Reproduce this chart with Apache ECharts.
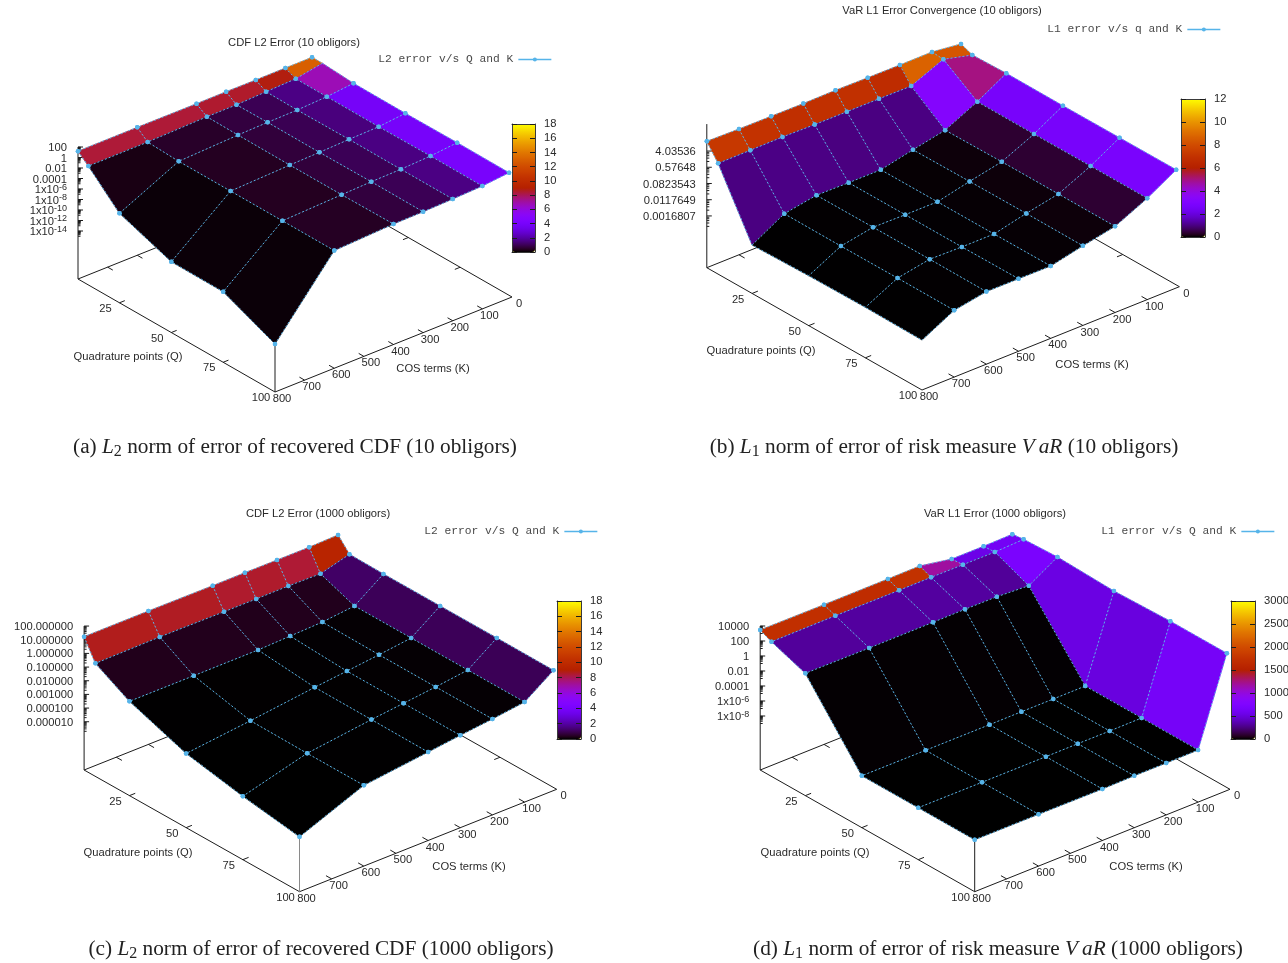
<!DOCTYPE html>
<html>
<head>
<meta charset="utf-8">
<style>html,body{margin:0;padding:0;background:#fff}#c{width:1288px;height:963px}</style>
<script src="https://cdn.jsdelivr.net/npm/echarts@6/dist/echarts.min.js"></script>
</head>
<body>
<div id="c"></div>
<script>
// ---------- data ----------
const qValues = [5, 10, 25, 50, 75, 100];
const kValues7 = [10, 100, 200, 300, 400, 600, 800];
const kValues9 = [10, 100, 200, 300, 400, 500, 600, 700, 800];
const qTicks = [25, 50, 75, 100];
const kTicks = [0, 100, 200, 300, 400, 500, 600, 700, 800];

// log10 of the error, one row per Q, one column per K
const log10CdfL2_10 = [
  [1.22, 1.22, 1.19, 1.22, 1.20, 1.22, 1.21],
  [1.22, 0.30, 0.10, -0.13, -0.15, -0.45, -0.50],
  [0.80, 0.29, 0.01, -0.08, -0.23, -0.72, -6.1],
  [0.74, 0.23, 0.08, -0.13, -0.29, -0.72, -9.66],
  [0.82, 0.32, 0.05, -0.06, -0.27, -0.72, -9.7],
  [0.76, 0.27, 0.05, -0.11, -0.19, -0.72, -14]
];
const log10VarL1_10 = [
  [0.87, 1.06, 1.05, 1.06, 1.08, 1.06, 1.07, 1.08, 1.11],
  [0.63, 1.01, 0.29, 0.30, 0.30, 0.30, 0.33, 0.31, 0.30],
  [0.68, -0.19, -1.0, -1.35, -1.72, -1.72, -1.70, -1.99, -2.95],
  [0.67, -0.2, -0.97, -1.32, -1.71, -1.71, -1.69, -2.0, -2.87],
  [0.68, -0.19, -0.97, -1.31, -1.71, -1.71, -1.68, -1.99, -2.84],
  [0.69, -0.19, -0.98, -1.32, -1.70, -1.69, -1.69, -1.99, -2.87]
];
const log10CdfL2_1000 = [
  [1.27, 1.21, 1.21, 1.22, 1.21, 1.23, 1.22],
  [0.32, -0.26, -0.22, -0.23, -0.23, -0.20, -0.26],
  [0.29, -1.21, -1.45, -1.54, -1.62, -1.63, -1.63],
  [0.29, -1.21, -1.5, -1.76, -2.01, -2.58, -3.1],
  [0.29, -1.21, -1.51, -1.77, -2.03, -2.62, -3.89],
  [0.27, -1.21, -1.51, -1.77, -2.06, -2.62, -4.51]
];
const log10VarL1_1000 = [
  [2.75, 2.68, 2.69, 3.47, 3.44, 3.43, 3.47],
  [2.93, 2.77, 2.79, 2.81, 2.79, 2.81, 2.76],
  [3.13, 0.84, 1.08, 1.11, 1.08, 1.07, 1.11],
  [2.87, -8.27, -8.29, -8.28, -8.30, -8.30, -8.28],
  [3.11, -8.25, -8.28, -8.27, -8.29, -8.29, -8.27],
  [3.11, -8.25, -8.28, -8.27, -8.33, -8.29, -8.27]
];

const zTickLabelsA = ['100', '1', '0.01', '0.0001', '1x10{s|-6}', '1x10{s|-8}', '1x10{s|-10}', '1x10{s|-12}', '1x10{s|-14}'];
const zTickLogsA = [2, 0, -2, -4, -6, -8, -10, -12, -14];
const zTickLabelsB = ['4.03536', '0.57648', '0.0823543', '0.0117649', '0.0016807'];
const zTickLogsB = [0.606, -0.239, -1.084, -1.929, -2.774];
const zTickLabelsC = ['100.000000', '10.000000', '1.000000', '0.100000', '0.010000', '0.001000', '0.000100', '0.000010'];
const zTickLogsC = [2, 1, 0, -1, -2, -3, -4, -5];
const zTickLabelsD = ['10000', '100', '1', '0.01', '0.0001', '1x10{s|-6}', '1x10{s|-8}'];
const zTickLogsD = [4, 2, 0, -2, -4, -6, -8];

// ---------- layout / view of each panel ----------
const SANS = '"Liberation Sans", Arial, sans-serif';
const MONO = '"Liberation Mono", monospace';
const SERIF = '"Liberation Serif", serif';
const TXT = '#2a2a2a', AX = '#1c1c1c', MESH = '#56b4e9';
const LABEL_SIZE = 11.2;

const panels = [
  { box: [0, 0, 644, 480], kValues: kValues7, z: log10CdfL2_10,
    left: [78, 279], bottom: [275, 392], right: [512, 297],
    zBase: -23.14, zTop: 2, zScale: 5.25, zLabels: zTickLabelsA, zLogs: zTickLogsA, minor: [.1,.2,.3,.4,.5,.6,.7,.8,.9],
    title: 'CDF L2 Error (10 obligors)', titleAt: [294, 43],
    key: 'L2 error v/s Q and K', keyEnd: 552, keyY: 61,
    qTitleAt: [128, 356], kTitleAt: [433, 368],
    cb: [512, 124, 23, 128], cbMax: 18, cbStep: 2, post: AX, hidden: [[1, 0]],
    caption: '(a) {i|L}{sub|2} norm of error of recovered CDF (10 obligors)', capAt: [295, 446] },
  { box: [644, 0, 644, 480], kValues: kValues9, z: log10VarL1_10,
    left: [706.8, 267.7], bottom: [922, 390], right: [1179.4, 286.7],
    zBase: -5.47, zTop: 2.01, zScale: 19.2, zLabels: zTickLabelsB, zLogs: zTickLogsB, minor: [2/7,3/7,4/7,5/7,6/7],
    title: 'VaR L1 Error Convergence (10 obligors)', titleAt: [942, 11],
    key: 'L1 error v/s q and K', keyEnd: 1221, keyY: 31,
    qTitleAt: [761, 350], kTitleAt: [1092, 364],
    cb: [1181, 99, 24, 138], cbMax: 12, cbStep: 2, post: null,
    hidden: [[2, 8], [3, 8], [4, 8], [5, 8]],
    caption: '(b) {i|L}{sub|1} norm of error of risk measure {iv|V}{i|aR} (10 obligors)', capAt: [944, 446] },
  { box: [0, 481, 644, 482], kValues: kValues7, z: log10CdfL2_1000,
    left: [84.1, 770], bottom: [299.5, 891.7], right: [556.7, 789.3],
    zBase: -8.53, zTop: 2, zScale: 13.67, zLabels: zTickLabelsC, zLogs: zTickLogsC, minor: [.2,.3,.4,.5,.6,.7,.8,.9],
    title: 'CDF L2 Error (1000 obligors)', titleAt: [318, 514],
    key: 'L2 error v/s Q and K', keyEnd: 598, keyY: 533,
    qTitleAt: [138, 852], kTitleAt: [469, 866],
    cb: [557, 601, 24, 138], cbMax: 18, cbStep: 2, post: '#8a8a8a', hidden: [],
    caption: '(c) {i|L}{sub|2} norm of error of recovered CDF (1000 obligors)', capAt: [321, 948] },
  { box: [644, 481, 644, 482], kValues: kValues7, z: log10VarL1_1000,
    left: [760.2, 770], bottom: [974.7, 891.7], right: [1230, 789.3],
    zBase: -15.2, zTop: 4, zScale: 7.5, zLabels: zTickLabelsD, zLogs: zTickLogsD, minor: [.1,.2,.3,.4,.5,.6,.7,.8,.9],
    title: 'VaR L1 Error (1000 obligors)', titleAt: [995, 514],
    key: 'L1 error v/s Q and K', keyEnd: 1275, keyY: 533,
    qTitleAt: [815, 852], kTitleAt: [1146, 866],
    cb: [1231, 601, 24, 138], cbMax: 3000, cbStep: 500, post: AX, hidden: [],
    caption: '(d) {i|L}{sub|1} norm of error of risk measure {iv|V}{i|aR} (1000 obligors)', capAt: [998, 948] }
];

// gnuplot's default pm3d palette
const palette = [];
for (let i = 0; i <= 64; i++) {
  const x = i / 64;
  const r = Math.sqrt(x), g = x * x * x, b = Math.max(0, Math.sin(2 * Math.PI * x));
  palette.push('rgb(' + Math.round(r * 255) + ',' + Math.round(g * 255) + ',' + Math.round(b * 255) + ')');
}

// orthographic view of (Q, K, log10 z) onto a panel's plot units
function project(p, Q, K, logZ) {
  const q = (Q - qValues[0]) / (qValues[qValues.length - 1] - qValues[0]);
  const k = (800 - K) / 800;
  const lift = logZ === undefined ? 0 : (logZ - p.zBase) * p.zScale;
  return [
    p.left[0] + q * (p.bottom[0] - p.left[0]) + k * (p.right[0] - p.bottom[0]),
    p.left[1] + q * (p.bottom[1] - p.left[1]) + k * (p.right[1] - p.bottom[1]) - lift
  ];
}

function axesRenderer(p) {
  return function (params, api) {
    const pt = (Q, K, z) => api.coord(project(p, Q, K, z));
    const kids = [];
    const seg = (a, b, stroke, w) => kids.push({ type: 'line', shape: { x1: a[0], y1: a[1], x2: b[0], y2: b[1] },
      style: { stroke: stroke || AX, lineWidth: w || 1, fill: null } });
    const txt = (s, x, y, align, extra) => kids.push({ type: 'text', style: Object.assign({ text: s, x: x, y: y + 1, align: align, verticalAlign: 'middle',
      fontSize: LABEL_SIZE, fontFamily: SANS, fill: TXT }, extra || {}) });
    const Qmin = qValues[0], Qmax = qValues[qValues.length - 1];
    // box
    seg(pt(Qmin, 800), pt(Qmax, 800));
    seg(pt(Qmax, 800), pt(Qmax, 0));
    seg(pt(Qmin, 800), pt(Qmin, 0));
    seg(pt(Qmax, 0), pt(Qmin, 0));
    seg(pt(Qmin, 800), pt(Qmin, 800, p.zTop));
    if (p.post) seg(pt(Qmax, 800), pt(Qmax, 800, p.zTop), p.post);
    // Q ticks
    qTicks.forEach(Q => {
      const a = pt(Q, 800);
      if (Q !== Qmax) { seg(a, pt(Q, 782)); seg(pt(Q, 0), pt(Q, 18)); }
      txt(String(Q), a[0] - 14, a[1] + 5, 'center');
    });
    // K ticks
    kTicks.forEach(K => {
      const a = pt(Qmax, K);
      if (K !== 800 && K !== 0) { seg(a, pt(Qmax - 2.5, K)); seg(pt(Qmin, K), pt(Qmin + 2.5, K)); }
      txt(String(K), a[0] + 7, a[1] + 6, 'center');
    });
    // z ticks
    p.zLogs.forEach((lz, i) => {
      const a = pt(Qmin, 800, lz);
      seg(a, [a[0] + 5, a[1]], AX, 1);
      txt(p.zLabels[i], a[0] - 11, a[1], 'right', { rich: { s: { fontSize: 9, fontFamily: SANS, fill: TXT, verticalAlign: 'top', lineHeight: 14 } }, lineHeight: 14 });
      p.minor.forEach(m => {
        const b = pt(Qmin, 800, lz + Math.log10(m));
        seg(b, [b[0] + 2.5, b[1]], AX, 1);
      });
    });
    // axis titles
    const qt = api.coord(p.qTitleAt), kt = api.coord(p.kTitleAt);
    txt('Quadrature points (Q)', qt[0], qt[1], 'center');
    txt('COS terms (K)', kt[0], kt[1], 'center');
    return { type: 'group', children: kids };
  };
}

function quadData(p) {
  const items = [];
  const nQ = qValues.length, nK = p.kValues.length;
  for (let r = 0; r < nQ - 1; r++) for (let c = 0; c < nK - 1; c++) {
    const mean = (10 ** p.z[r][c] + 10 ** p.z[r][c + 1] + 10 ** p.z[r + 1][c] + 10 ** p.z[r + 1][c + 1]) / 4;
    items.push([mean, r, c]);
  }
  // back to front: far corner is small Q, small K
  items.sort((a, b) => (a[1] / nQ + a[2] / nK) - (b[1] / nQ + b[2] / nK));
  return items;
}

function surfaceRenderer(p) {
  return function (params, api) {
    const r = api.value(1), c = api.value(2), col = api.visual('color');
    const n = (i, j) => api.coord(project(p, qValues[i], p.kValues[j], p.z[i][j]));
    return { type: 'polygon', shape: { points: [n(r, c), n(r, c + 1), n(r + 1, c + 1), n(r + 1, c)] },
      style: { fill: col, stroke: col, lineWidth: 0.6 } };
  };
}

function meshData(p) {
  const out = [], gap = ['-', '-'];
  const isHidden = (i, j) => p.hidden.some(h => h[0] === i && h[1] === j);
  const node = (i, j) => {
    const v = project(p, qValues[i], p.kValues[j], p.z[i][j]);
    return isHidden(i, j) ? { value: v, symbol: 'none' } : { value: v };
  };
  qValues.forEach((Q, i) => { p.kValues.forEach((K, j) => out.push(node(i, j))); out.push(gap); });
  p.kValues.forEach((K, j) => { qValues.forEach((Q, i) => out.push(node(i, j))); out.push(gap); });
  return out;
}

// ---------- option ----------
const grid = [], xAxis = [], yAxis = [], series = [], visualMap = [], legend = [], title = [];

panels.forEach((p, i) => {
  grid.push({ left: p.box[0], top: p.box[1], width: p.box[2], height: p.box[3], outerBoundsMode: 'none' });
  xAxis.push({ type: 'value', gridIndex: i, min: p.box[0], max: p.box[0] + p.box[2], show: false });
  yAxis.push({ type: 'value', gridIndex: i, min: p.box[1], max: p.box[1] + p.box[3], inverse: true, show: false });
});
const frame = { show: true, onZero: false, lineStyle: { color: '#3a3a3a', width: 1 } };
panels.forEach((p, i) => {
  const g = 4 + i;
  grid.push({ left: p.cb[0], top: p.cb[1], width: p.cb[2], height: p.cb[3], outerBoundsMode: 'none' });
  xAxis.push({ type: 'value', gridIndex: g, position: 'bottom', min: 0, max: 1, z: 6,
    axisLine: frame, axisTick: { show: false }, axisLabel: { show: false }, splitLine: { show: false } });
  yAxis.push({ type: 'value', gridIndex: g, position: 'left', min: 0, max: p.cbMax, interval: p.cbStep, z: 6,
    axisLine: frame, axisTick: { show: true, inside: true, length: 5, lineStyle: { color: '#1c1c1c' } },
    axisLabel: { show: false }, splitLine: { show: false } });
});
panels.forEach((p, i) => {
  const g = 4 + i;
  xAxis.push({ type: 'value', gridIndex: g, position: 'top', min: 0, max: 1, z: 6,
    axisLine: frame, axisTick: { show: false }, axisLabel: { show: false }, splitLine: { show: false } });
  yAxis.push({ type: 'value', gridIndex: g, position: 'right', min: 0, max: p.cbMax, interval: p.cbStep, z: 6,
    axisLine: frame, axisTick: { show: true, inside: true, length: 5, lineStyle: { color: '#1c1c1c' } },
    axisLabel: { show: true, margin: 9, fontSize: LABEL_SIZE, fontFamily: SANS, color: TXT, padding: [2, 0, 0, 0], formatter: v => String(v), hideOverlap: false },
    splitLine: { show: false } });
});

panels.forEach((p, i) => {
  series.push({ type: 'custom', coordinateSystem: 'cartesian2d', xAxisIndex: i, yAxisIndex: i, z: 1, silent: true,
    data: [[0, 0]], renderItem: axesRenderer(p) });
  const surfaceIndex = series.length;
  series.push({ type: 'custom', coordinateSystem: 'cartesian2d', xAxisIndex: i, yAxisIndex: i, z: 3, silent: true,
    encode: { x: 1, y: 2 }, data: quadData(p), renderItem: surfaceRenderer(p) });
  series.push({ type: 'line', name: p.key, xAxisIndex: i, yAxisIndex: i, z: 4, silent: true, clip: false,
    connectNulls: false, showSymbol: true, showAllSymbol: true, symbol: 'circle', symbolSize: 4.5,
    itemStyle: { color: MESH }, lineStyle: { color: MESH, width: 1, type: [2, 2] }, data: meshData(p) });
  visualMap.push({ type: 'continuous', seriesIndex: surfaceIndex, dimension: 0, min: 0, max: p.cbMax,
    left: p.cb[0], top: p.cb[1], itemWidth: p.cb[2], itemHeight: p.cb[3], padding: 0, calculable: false,
    showLabel: false, text: null, hoverLink: false, inRange: { color: palette }, outOfRange: { color: palette[64] } });
  legend.push({ data: [{ name: p.key }], right: 1288 - p.keyEnd, top: p.keyY - 7, padding: 0, align: 'right',
    itemWidth: 33, itemHeight: 5, itemGap: 0, selectedMode: false,
    lineStyle: { type: 'solid', width: 1.3, color: MESH },
    textStyle: { fontFamily: MONO, fontSize: 11.25, color: '#4a4a4a' } });
  title.push({ text: p.title, left: p.titleAt[0], top: p.titleAt[1], textAlign: 'center', textVerticalAlign: 'middle', padding: 0,
    textStyle: { fontFamily: SANS, fontSize: LABEL_SIZE, fontWeight: 'normal', color: TXT } });
  const capStyle = { fontFamily: SERIF, fontSize: 21.3, color: '#222', lineHeight: 26 };
  title.push({ text: p.caption, left: p.capAt[0], top: p.capAt[1] + 1, textAlign: 'center', textVerticalAlign: 'middle', padding: 0,
    textStyle: { fontFamily: SERIF, fontSize: 21.3, fontWeight: 'normal', color: '#222', lineHeight: 26,
      rich: { i: Object.assign({ fontStyle: 'italic' }, capStyle),
              iv: Object.assign({ fontStyle: 'italic', padding: [0, 4, 0, 0] }, capStyle),
              sub: { fontFamily: SERIF, fontSize: 16, color: '#222', verticalAlign: 'bottom', lineHeight: 26 } } } });
});

const chart = echarts.init(document.getElementById('c'), null, { renderer: 'canvas', width: 1288, height: 963 });
chart.setOption({ animation: false, backgroundColor: '#fff', title, grid, xAxis, yAxis, series, visualMap, legend });
</script>
</body>
</html>
